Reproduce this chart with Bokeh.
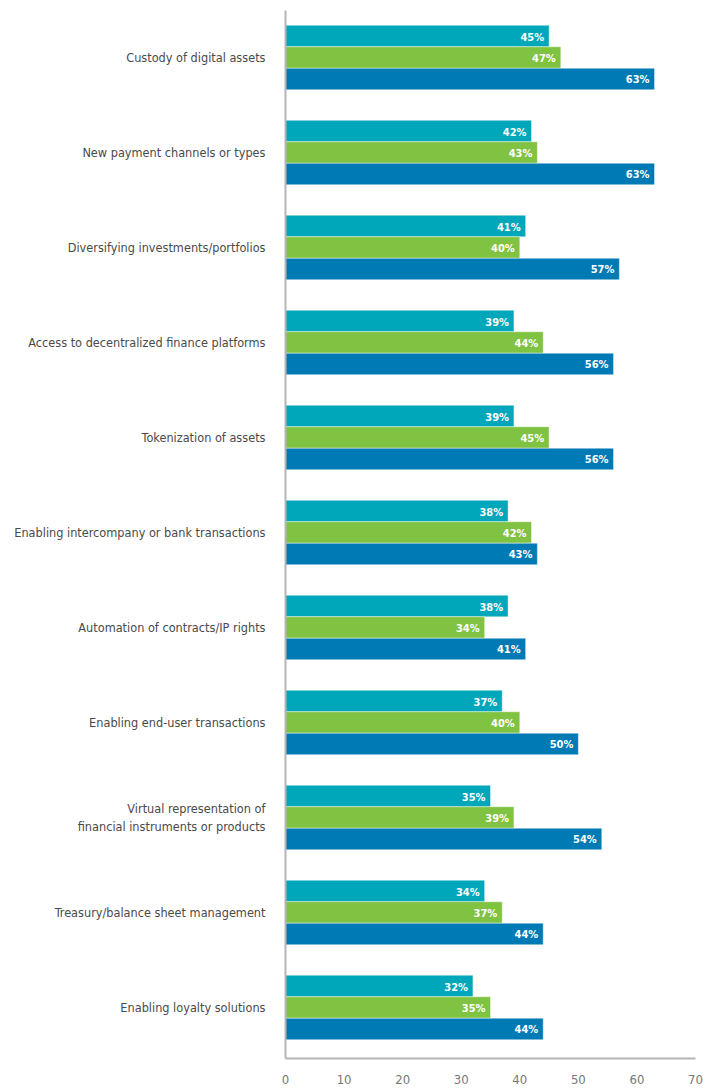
from bokeh.plotting import figure
from bokeh.models import Range1d, FixedTicker, ColumnDataSource
from bokeh.core.properties import value
from bokeh.embed import file_html
from bokeh.resources import INLINE

categories = [
    "Custody of digital assets",
    "New payment channels or types",
    "Diversifying investments/portfolios",
    "Access to decentralized finance platforms",
    "Tokenization of assets",
    "Enabling intercompany or bank transactions",
    "Automation of contracts/IP rights",
    "Enabling end-user transactions",
    "Virtual representation of\nfinancial instruments or products",
    "Treasury/balance sheet management",
    "Enabling loyalty solutions",
]
series_teal = [45, 42, 41, 39, 39, 38, 38, 37, 35, 34, 32]
series_green = [47, 43, 40, 44, 45, 42, 34, 40, 39, 37, 35]
series_blue = [63, 63, 57, 56, 56, 43, 41, 50, 54, 44, 44]
x_ticks = [0, 10, 20, 30, 40, 50, 60, 70]

colors = ["#00A6B9", "#80C242", "#007AB5"]
FONT = "DejaVu Sans Condensed"

n = len(categories)
centers = [n - 1 - i for i in range(n)]
bar_h = 0.226
offsets = [bar_h, 0.0, -bar_h]

p = figure(width=708, height=1088, output_backend="svg", toolbar_location=None,
           x_range=Range1d(0, 70), y_range=Range1d(-0.537, n - 1 + 0.495),
           min_border_left=285, min_border_right=13, min_border_top=10,
           min_border_bottom=30)
p.outline_line_color = None
p.xgrid.grid_line_color = None
p.ygrid.grid_line_color = None

for vals, col, off in zip([series_teal, series_green, series_blue], colors, offsets):
    src = ColumnDataSource(dict(
        y=[c + off for c in centers],
        v=vals,
        lab=[f"{v}%" for v in vals],
    ))
    p.hbar(y="y", right="v", left=0, height=bar_h, source=src,
           fill_color=col, line_color="white", line_width=0.6, line_alpha=0.7)
    p.text(x="v", y="y", text="lab", source=src, text_align="right",
           text_baseline="middle", x_offset=-5, y_offset=1, text_color="white",
           text_font=value(FONT), text_font_style="bold", text_font_size="11px")

# y axis
p.yaxis.ticker = FixedTicker(ticks=centers)
p.yaxis.major_label_overrides = {c: lab for c, lab in zip(centers, categories)}
p.yaxis.major_tick_line_color = None
p.yaxis.minor_tick_line_color = None
p.yaxis.axis_line_color = "#b5b5b5"
p.yaxis.axis_line_width = 2
p.yaxis.major_label_standoff = 14
p.yaxis.major_label_text_font = FONT
p.yaxis.major_label_text_font_size = "12.6px"
p.yaxis.major_label_text_color = "#4a4a4a"

# x axis
p.xaxis.ticker = FixedTicker(ticks=x_ticks)
p.xaxis.major_tick_line_color = None
p.xaxis.minor_tick_line_color = None
p.xaxis.axis_line_color = "#b5b5b5"
p.xaxis.axis_line_width = 2
p.xaxis.major_label_standoff = 10
p.xaxis.major_label_text_font = FONT
p.xaxis.major_label_text_font_size = "13px"
p.xaxis.major_label_text_color = "#777777"

open("out.html", "w").write(file_html(p, INLINE))
